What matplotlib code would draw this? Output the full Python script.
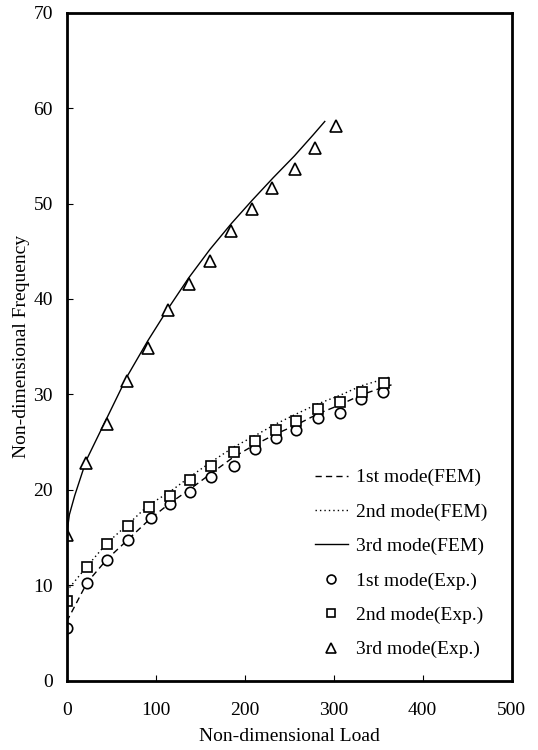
import matplotlib
matplotlib.use("Agg")
import matplotlib.pyplot as plt

plt.rcParams['font.family'] = ['Liberation Serif', 'DejaVu Serif']

# experiment points
x_exp1 = [0, 23, 45, 69, 95, 116, 139, 162, 188, 212, 235, 258, 282, 307, 331, 355]
y_exp1 = [5.55, 10.2, 12.6, 14.75, 17.1, 18.5, 19.8, 21.3, 22.5, 24.25, 25.4, 26.3, 27.5, 28.1, 29.5, 30.2]
x_exp2 = [0, 23, 45, 69, 92, 116, 139, 162, 188, 212, 235, 258, 282, 307, 332, 357]
y_exp2 = [8.3, 11.95, 14.3, 16.25, 18.2, 19.4, 21.0, 22.5, 24.0, 25.15, 26.3, 27.25, 28.45, 29.2, 30.3, 31.15]
x_exp3 = [0, 22, 45, 68, 91, 114, 137, 161, 185, 208, 231, 256, 279, 303]
y_exp3 = [15.3, 22.8, 26.9, 31.4, 34.9, 38.85, 41.6, 44.0, 47.1, 49.4, 51.6, 53.6, 55.8, 58.1]

# FEM curves
x_fem1 = [0, 23, 45, 69, 93, 116, 139, 162, 187, 211, 235, 258, 282, 307, 331, 356, 365]
y_fem1 = [6.2, 10.3, 12.7, 14.8, 16.9, 18.6, 20.1, 21.7, 23.4, 24.7, 25.85, 26.8, 27.95, 28.9, 29.95, 30.75, 31.0]
x_fem2 = [0, 23, 45, 69, 92, 116, 139, 162, 188, 212, 235, 258, 282, 307, 331, 356, 365]
y_fem2 = [9.4, 12.0, 14.4, 16.4, 18.4, 19.8, 21.4, 22.9, 24.5, 25.7, 26.9, 27.95, 29.0, 29.9, 30.9, 31.6, 31.9]
x_fem3 = [0, 3, 9, 22, 45, 68, 91, 114, 137, 161, 185, 208, 232, 256, 277, 290]
y_fem3 = [15.3, 17.4, 19.4, 23.1, 27.5, 31.9, 35.6, 39.0, 42.2, 45.2, 47.9, 50.3, 52.7, 55.0, 57.2, 58.6]

fig = plt.figure(figsize=(5.38, 7.5), dpi=100)
ax = fig.add_axes([0.124, 0.0924, 0.827, 0.8907])

ax.plot(x_fem1, y_fem1, color='black', lw=1.0, ls=(0, (4.5, 3)), label='1st mode(FEM)')
ax.plot(x_fem2, y_fem2, color='black', lw=1.0, ls=(0, (1, 2.2)), label='2nd mode(FEM)')
ax.plot(x_fem3, y_fem3, color='black', lw=1.0, ls='-', label='3rd mode(FEM)')
ax.plot(x_exp1, y_exp1, ls='none', marker='o', ms=7.5, mfc='white', mec='black', mew=1.2,
        label='1st mode(Exp.)')
ax.plot(x_exp2, y_exp2, ls='none', marker='s', ms=7.5, mfc='white', mec='black', mew=1.2,
        label='2nd mode(Exp.)')
ax.plot(x_exp3, y_exp3, ls='none', marker='^', ms=8.5, mfc='white', mec='black', mew=1.2,
        label='3rd mode(Exp.)')

ax.set_xlim(0, 500)
ax.set_ylim(0, 70)
ax.set_xticks(range(0, 501, 100))
ax.set_yticks(range(0, 71, 10))
ax.tick_params(direction='in', length=4, width=0.8, labelsize=14)
ax.tick_params(axis='x', pad=15)
ax.tick_params(axis='y', pad=10)
for s in ax.spines.values():
    s.set_linewidth(2.0)

ax.set_xlabel('Non-dimensional Load', fontsize=14, labelpad=7)
ax.set_ylabel('Non-dimensional Frequency', fontsize=14, labelpad=2)

ax.legend(loc='upper left', bbox_to_anchor=(0.585, 0.375), bbox_transform=fig.transFigure,
          frameon=False, fontsize=14, handlelength=1.7, handletextpad=0.4,
          labelspacing=0.86, borderpad=0, borderaxespad=0, numpoints=1, markerscale=0.85)

fig.savefig('out.png', dpi=100)
